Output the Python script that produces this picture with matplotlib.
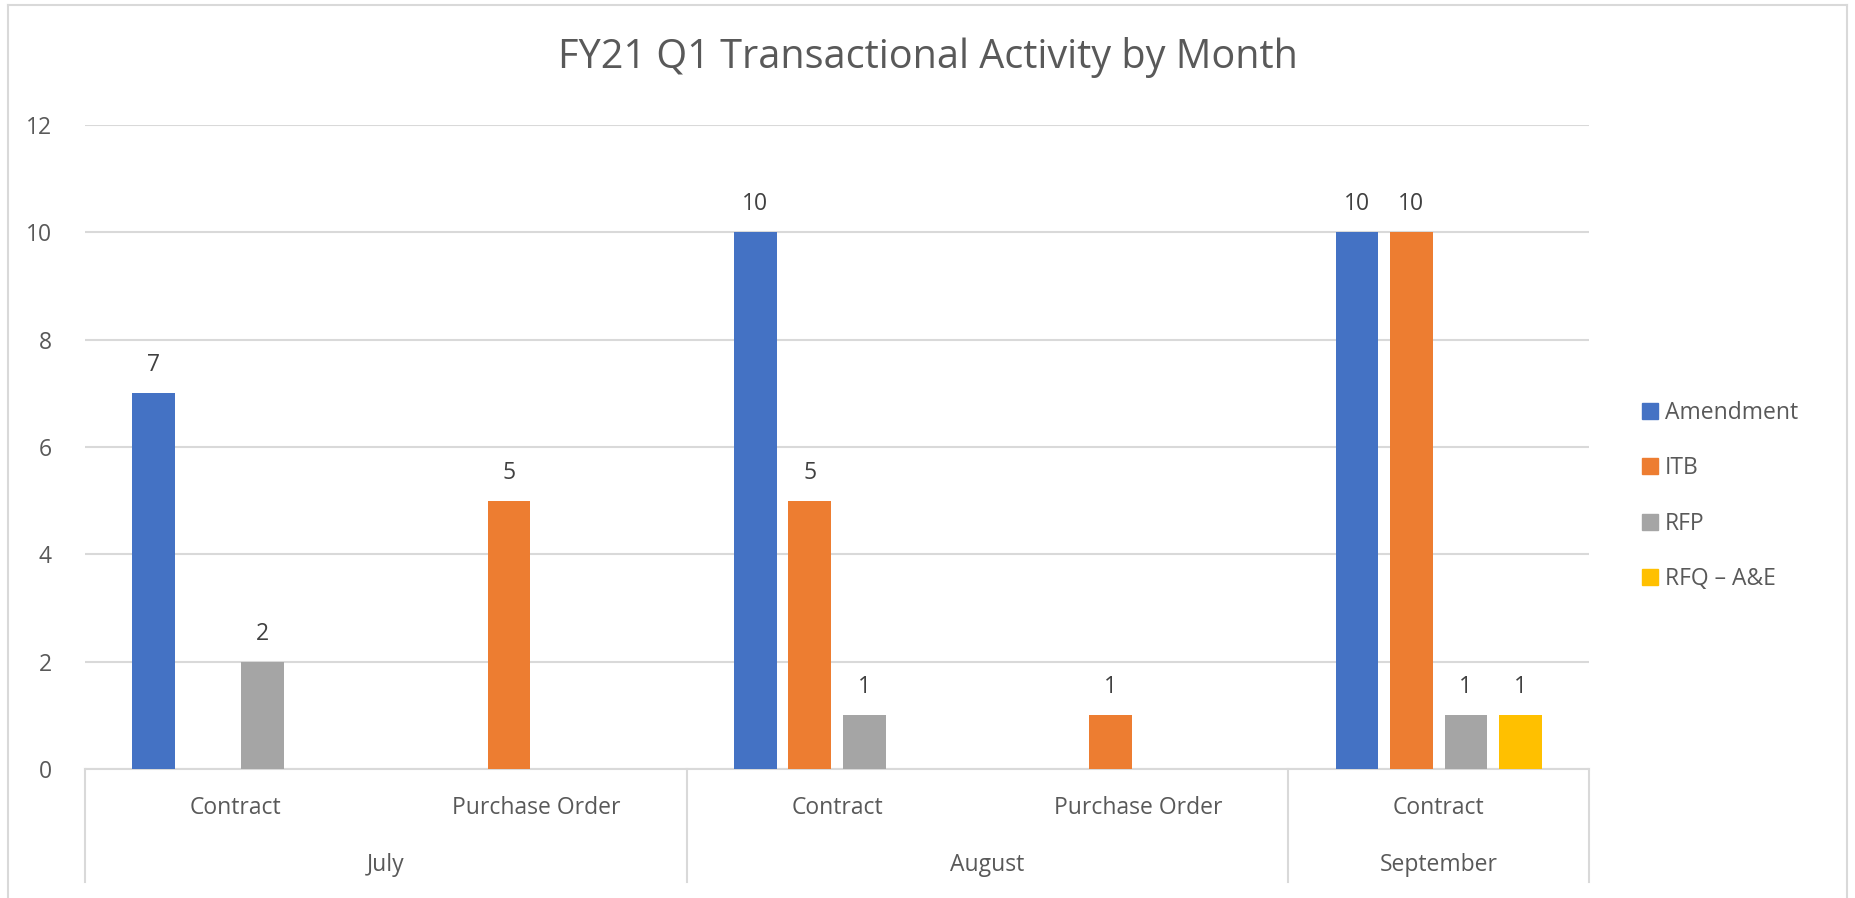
import matplotlib
matplotlib.use("Agg")
import matplotlib.pyplot as plt
import matplotlib.transforms as mtransforms
from matplotlib.patches import Rectangle
from matplotlib.lines import Line2D
import numpy as np

plt.rcParams['font.family'] = ['Open Sans', 'DejaVu Sans']

title = "FY21 Q1 Transactional Activity by Month"
categories = ["Contract", "Purchase Order", "Contract", "Purchase Order", "Contract"]
months = ["July", "August", "September"]
month_spans = [(0, 1), (2, 3), (4, 4)]
series_names = ["Amendment", "ITB", "RFP", "RFQ \u2013 A&E"]
amendment = [7, None, 10, None, 10]
itb = [None, 5, 5, 1, 10]
rfp = [2, None, 1, None, 1]
rfq_ae = [None, None, None, None, 1]
colors = ["#4472C4", "#ED7D31", "#A5A5A5", "#FFC000"]
yticks = [0, 2, 4, 6, 8, 10, 12]

W, H = 1855, 898
fig = plt.figure(figsize=(W / 100, H / 100), dpi=100)
ax = fig.add_axes([85 / W, 1 - 769 / H, (1589 - 85) / W, (769 - 125) / H])

text_col = "#595959"
grid_col = "#D9D9D9"
fs = 16.5

slot = 0.181
bw = 0.1416
x = np.arange(len(categories))
for i, (vals, c) in enumerate(zip([amendment, itb, rfp, rfq_ae], colors)):
    off = (i - 1.5) * slot
    for xi, v in zip(x, vals):
        if v is None:
            continue
        ax.bar(xi + off, v, width=bw, color=c, zorder=3)
        ax.text(xi + off, v + 0.3, f"{v}", ha="center", va="bottom",
                fontsize=fs, color="#404040", zorder=4)

ax.set_xlim(-0.5, len(categories) - 0.5)
ax.set_ylim(0, 12)
ax.set_yticks(yticks)
ax.set_yticklabels([str(t) for t in yticks], fontsize=fs, color=text_col)
ax.tick_params(axis="y", length=0, pad=24)
ax.set_xticks([])
ax.grid(axis="y", color=grid_col, linewidth=1.5, zorder=0)
for s in ["top", "right", "left"]:
    ax.spines[s].set_visible(False)
ax.spines["bottom"].set_color(grid_col)
ax.spines["bottom"].set_linewidth(1.5)

trans = mtransforms.blended_transform_factory(ax.transData, ax.transAxes)
for xi, cat in zip(x, categories):
    ax.text(xi, -0.06, cat, transform=trans, ha="center", va="center",
            fontsize=fs, color=text_col)
for m, (a, b) in zip(months, month_spans):
    ax.text((a + b) / 2, -0.149, m, transform=trans, ha="center", va="center",
            fontsize=fs, color=text_col)
bounds = [-0.5] + [b + 0.5 for (_, b) in month_spans]
for bx in bounds:
    ax.add_line(Line2D([bx, bx], [0, -0.175], transform=trans, color=grid_col,
                       linewidth=1.5, clip_on=False))

fig.text(0.5, 1 - 57 / H, title, ha="center", va="center", fontsize=28.5, color=text_col)

handles = [Rectangle((0, 0), 1, 1, color=c) for c in colors]
leg = fig.legend(handles, series_names, loc="center left",
                 bbox_to_anchor=(1621 / W, 1 - 496 / H), frameon=False,
                 fontsize=fs, labelcolor=text_col, handlelength=0.7, handleheight=0.7,
                 handletextpad=0.3, labelspacing=1.38)

# chart border
fig.add_artist(Line2D([8 / W, 8 / W], [0, 1 - 5 / H], transform=fig.transFigure,
                      color=grid_col, linewidth=1.5))
fig.add_artist(Line2D([1847 / W, 1847 / W], [0, 1 - 5 / H], transform=fig.transFigure,
                      color=grid_col, linewidth=1.5))
fig.add_artist(Line2D([8 / W, 1847 / W], [1 - 5 / H, 1 - 5 / H], transform=fig.transFigure,
                      color=grid_col, linewidth=1.5))

fig.savefig("out.png", dpi=100)
